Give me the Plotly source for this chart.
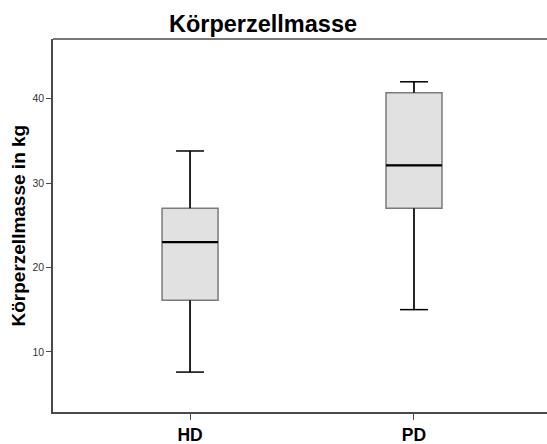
import plotly.graph_objects as go

# Five-number summaries of body cell mass (kg) per group
groups = ["HD", "PD"]
lower_whisker = [7.6, 15.0]
q1 = [16.1, 27.0]
median = [23.0, 32.1]
q3 = [27.0, 40.7]
upper_whisker = [33.8, 42.0]

y_ticks = [10, 20, 30, 40]

BOX_W = 0.25
CAP_W = 0.125
AXIS_COLOR = "#4a4a4a"
FONT = "Liberation Sans, Arial, sans-serif"

pos = list(range(len(groups)))

fig = go.Figure()

# Grey boxes (Q1..Q3)
fig.add_trace(go.Box(
    x=pos,
    q1=q1,
    median=median,
    q3=q3,
    lowerfence=lower_whisker,
    upperfence=upper_whisker,
    width=BOX_W,
    fillcolor="#e1e1e1",
    line=dict(color="#7a7a7a", width=1.5),
    whiskerwidth=0.0,
    boxpoints=False,
    showlegend=False,
))

# Black whiskers with caps
wx, wy = [], []
for i in pos:
    wx += [i, i, None, i, i, None,
           i - CAP_W / 2, i + CAP_W / 2, None,
           i - CAP_W / 2, i + CAP_W / 2, None]
    wy += [q3[i], upper_whisker[i], None, lower_whisker[i], q1[i], None,
           upper_whisker[i], upper_whisker[i], None,
           lower_whisker[i], lower_whisker[i], None]
fig.add_trace(go.Scatter(x=wx, y=wy, mode="lines",
                         line=dict(color="black", width=1.5),
                         showlegend=False))

# Black median lines
mx, my = [], []
for i in pos:
    mx += [i - BOX_W / 2, i + BOX_W / 2, None]
    my += [median[i], median[i], None]
fig.add_trace(go.Scatter(x=mx, y=my, mode="lines",
                         line=dict(color="black", width=2.2),
                         showlegend=False))

# Top frame line of the plot area; the right side stays open
fig.add_shape(type="line", xref="paper", yref="paper", x0=0, x1=1, y0=1, y1=1,
              line=dict(color=AXIS_COLOR, width=1.5), layer="above")
fig.add_shape(type="line", xref="paper", yref="paper", x0=1, x1=1, y0=0.003, y1=0.997,
              line=dict(color="white", width=2), layer="above")

fig.update_layout(
    width=547,
    height=444,
    margin=dict(l=53, r=0, t=39, b=32),
    paper_bgcolor="white",
    plot_bgcolor="white",
    font=dict(family=FONT, color="black"),
    title=dict(
        text="<b>Körperzellmasse</b>",
        font=dict(size=23.5, family=FONT, color="black"),
        x=263 / 547, xanchor="center",
        y=1 - 24 / 444, yanchor="middle",
        xref="container", yref="container",
    ),
    xaxis=dict(
        range=[-0.612, 1.594],
        tickvals=pos,
        ticktext=groups,
        showline=True, linecolor=AXIS_COLOR, linewidth=1.5,
        mirror=False,
        showgrid=False, zeroline=False,
        ticks="outside", ticklen=6, tickcolor=AXIS_COLOR, tickwidth=1,
        tickfont=dict(size=17.5, family=FONT, color="black", weight="bold"),
    ),
    yaxis=dict(
        range=[2.87, 47.07],
        tickvals=y_ticks,
        showline=True, linecolor=AXIS_COLOR, linewidth=1.5,
        mirror=False,
        showgrid=False, zeroline=False,
        ticks="outside", ticklen=5, tickcolor=AXIS_COLOR, tickwidth=1,
        tickfont=dict(size=10.5, family=FONT, color="#333333"),
    ),
    annotations=[dict(
        text="<b>Körperzellmasse in kg</b>",
        xref="paper", yref="paper",
        x=(18 - 53) / 494, y=0.5,
        xanchor="center", yanchor="middle",
        textangle=-90, showarrow=False,
        font=dict(size=19, family=FONT, color="black"),
    )],
)

fig.write_html("out.html")
